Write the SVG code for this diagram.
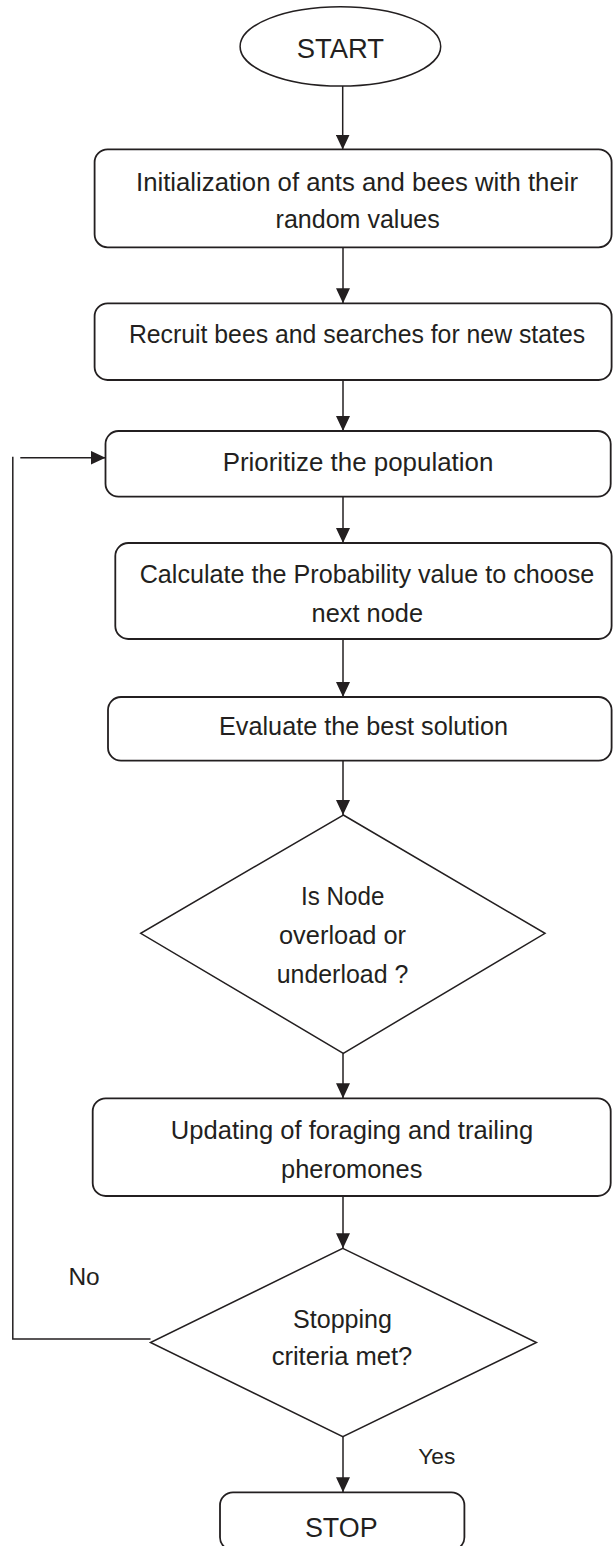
<svg xmlns="http://www.w3.org/2000/svg" width="613" height="1546" viewBox="0 0 613 1546">
<style>
.box{fill:#fff;stroke:#231f20;stroke-width:1.8}
.dia{fill:#fff;stroke:#231f20;stroke-width:1.5}
.con{fill:none;stroke:#231f20;stroke-width:1.5}
text{font-family:"Liberation Sans",Arial,sans-serif;fill:#231f20;text-anchor:middle}
.t{font-size:25.5px}
.lbl{text-anchor:start}
</style>
<defs>
<marker id="ah" markerUnits="userSpaceOnUse" markerWidth="15" markerHeight="14" refX="15" refY="7" orient="auto">
<path d="M0,0 L15,7 L0,14 z" fill="#231f20"/>
</marker>
</defs>
<rect width="613" height="1546" fill="#fff"/>
<g id="connectors">
<path class="con" d="M342.7,86 V149.5" marker-end="url(#ah)"/>
<path class="con" d="M343,247.3 V303.3" marker-end="url(#ah)"/>
<path class="con" d="M343,380 V431" marker-end="url(#ah)"/>
<path class="con" d="M343,497 V543" marker-end="url(#ah)"/>
<path class="con" d="M343,639 V697" marker-end="url(#ah)"/>
<path class="con" d="M343,761 V815" marker-end="url(#ah)"/>
<path class="con" d="M343,1053.3 V1098.3" marker-end="url(#ah)"/>
<path class="con" d="M343,1196 V1248.3" marker-end="url(#ah)"/>
<path class="con" d="M343,1436.7 V1492.3" marker-end="url(#ah)"/>
<path class="con" d="M150.5,1339 H12.8 V456.8"/>
<path class="con" d="M20.3,457.7 H105.5" marker-end="url(#ah)"/>
</g>
<g id="start">
<ellipse class="dia" cx="340.4" cy="46.4" rx="100.3" ry="39.7"/>
<text x="340.4" y="58.3" style="font-size:28px" textLength="87.3" lengthAdjust="spacingAndGlyphs">START</text>
</g>
<g id="init">
<rect class="box" x="94.6" y="149.3" width="517" height="98" rx="13"/>
<text class="t" x="357" y="190.7" textLength="442" lengthAdjust="spacingAndGlyphs">Initialization of ants and bees with their</text>
<text class="t" x="357.7" y="228.3" textLength="164.2" lengthAdjust="spacingAndGlyphs">random values</text>
</g>
<g id="recruit">
<rect class="box" x="94.6" y="303.3" width="517" height="76.7" rx="13"/>
<text class="t" x="357" y="343.3" textLength="456.2" lengthAdjust="spacingAndGlyphs">Recruit bees and searches for new states</text>
</g>
<g id="prioritize">
<rect class="box" x="105.5" y="431" width="505.2" height="65.7" rx="13"/>
<text class="t" x="358" y="470.7" textLength="270.6" lengthAdjust="spacingAndGlyphs">Prioritize the population</text>
</g>
<g id="calculate">
<rect class="box" x="115.3" y="543" width="496.3" height="96" rx="13"/>
<text class="t" x="367" y="583.3" textLength="454.6" lengthAdjust="spacingAndGlyphs">Calculate the Probability value to choose</text>
<text class="t" x="367.3" y="621.7" textLength="111.4" lengthAdjust="spacingAndGlyphs">next node</text>
</g>
<g id="evaluate">
<rect class="box" x="108" y="697" width="503.6" height="63.7" rx="13"/>
<text class="t" x="363.5" y="735" textLength="289" lengthAdjust="spacingAndGlyphs">Evaluate the best solution</text>
</g>
<g id="decision-load">
<polygon class="dia" points="343.3,815 545,933.3 343.3,1053.3 140.7,933.3"/>
<text class="t" x="342.7" y="905" textLength="83.3" lengthAdjust="spacingAndGlyphs">Is Node</text>
<text class="t" x="342.5" y="944" textLength="127" lengthAdjust="spacingAndGlyphs">overload or</text>
<text class="t" x="342.5" y="982.7" textLength="131.6" lengthAdjust="spacingAndGlyphs">underload ?</text>
</g>
<g id="update">
<rect class="box" x="92.7" y="1098.3" width="518" height="97.7" rx="13"/>
<text class="t" x="352" y="1139.3" textLength="362.3" lengthAdjust="spacingAndGlyphs">Updating of foraging and trailing</text>
<text class="t" x="351.7" y="1178.3" textLength="141.3" lengthAdjust="spacingAndGlyphs">pheromones</text>
</g>
<g id="decision-stop">
<polygon class="dia" points="342.8,1248.3 536.4,1342.5 342.8,1436.7 150.5,1342.5"/>
<text class="t" x="342.5" y="1327.7" textLength="99" lengthAdjust="spacingAndGlyphs">Stopping</text>
<text class="t" x="342" y="1365" textLength="140.7" lengthAdjust="spacingAndGlyphs">criteria met?</text>
</g>
<g id="labels">
<text class="lbl" x="68.4" y="1285" style="font-size:24.5px" textLength="31.3" lengthAdjust="spacingAndGlyphs">No</text>
<text class="lbl" x="418.3" y="1463.5" style="font-size:22.5px" textLength="37" lengthAdjust="spacingAndGlyphs">Yes</text>
</g>
<g id="stop">
<rect class="box" x="220" y="1492.3" width="244.4" height="58" rx="13"/>
<text x="341.3" y="1536.7" style="font-size:27px" textLength="72.7" lengthAdjust="spacingAndGlyphs">STOP</text>
</g>
</svg>
